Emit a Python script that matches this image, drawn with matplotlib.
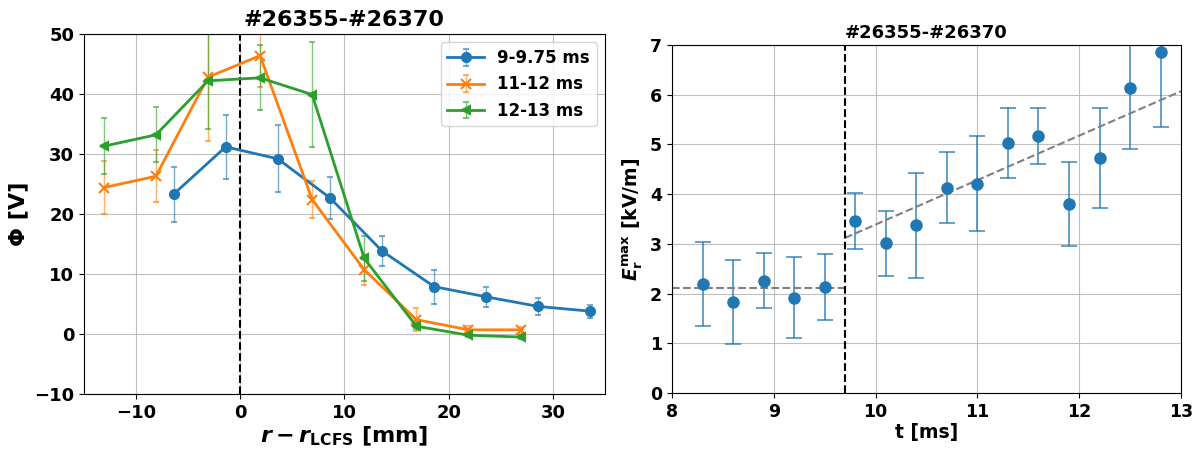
import matplotlib
matplotlib.use("Agg")
import matplotlib.pyplot as plt
import numpy as np

plt.rcParams["font.family"] = ["DejaVu Sans"]
plt.rcParams["font.weight"] = "bold"
plt.rcParams["axes.labelweight"] = "bold"
plt.rcParams["axes.titleweight"] = "bold"
plt.rcParams["mathtext.fontset"] = "custom"
plt.rcParams["mathtext.rm"] = "DejaVu Sans:bold"
plt.rcParams["mathtext.it"] = "DejaVu Sans:italic:bold"
plt.rcParams["mathtext.bf"] = "DejaVu Sans:bold"

# Radial potential profiles
r_blue = [-6.4, -1.4, 3.6, 8.6, 13.6, 18.6, 23.6, 28.6, 33.6]
phi_blue = [23.3, 31.2, 29.2, 22.7, 13.85, 7.9, 6.2, 4.6, 3.8]
err_blue = [4.6, 5.3, 5.6, 3.5, 2.5, 2.85, 1.7, 1.45, 1.05]

r_og = [-13.1, -8.1, -3.1, 1.9, 6.9, 11.9, 16.9, 21.9, 26.9]
phi_orange = [24.4, 26.3, 42.8, 46.4, 22.4, 10.7, 2.4, 0.7, 0.7]
err_orange = [4.45, 4.3, 10.7, 5.2, 3.1, 2.5, 1.9, 0.6, 0.5]
phi_green = [31.3, 33.2, 42.2, 42.7, 39.9, 12.6, 1.3, -0.2, -0.5]
err_green = [4.65, 4.6, 8.0, 5.4, 8.75, 3.7, 0.5, 0.3, 0.3]

labels = ["9-9.75 ms", "11-12 ms", "12-13 ms"]

# Maximum radial field versus time
t = [8.3, 8.6, 8.9, 9.2, 9.5, 9.8, 10.1, 10.4, 10.7, 11.0, 11.3, 11.6, 11.9, 12.2, 12.5, 12.8]
E_max = [2.19, 1.83, 2.26, 1.92, 2.13, 3.46, 3.01, 3.37, 4.13, 4.21, 5.03, 5.17, 3.80, 4.73, 6.13, 6.85]
E_err = [0.84, 0.84, 0.55, 0.82, 0.67, 0.56, 0.65, 1.05, 0.72, 0.95, 0.71, 0.57, 0.84, 1.0, 1.23, 1.5]

t_transition = 9.7
pre_mean = 2.11
post_at_transition = 3.12
post_slope = 0.894

title = "#26355-#26370"

fig = plt.figure(figsize=(11.98, 4.5), dpi=100)
ax1 = fig.add_axes([0.0701, 0.1244, 0.4349, 0.8000])
ax2 = fig.add_axes([0.5609, 0.1267, 0.4249, 0.7733])

c_blue, c_orange, c_green = "#1f77b4", "#ff7f0e", "#2ca02c"

ebk = dict(capsize=2.5, elinewidth=1.0, lw=2.0)
for r, y, e, c, m, ms, lab in [
    (r_blue, phi_blue, err_blue, c_blue, "o", 6.5, labels[0]),
    (r_og, phi_orange, err_orange, c_orange, "x", 6.5, labels[1]),
    (r_og, phi_green, err_green, c_green, "<", 6, labels[2]),
]:
    line, caps, bars = ax1.errorbar(r, y, yerr=e, color=c, marker=m, ms=ms,
                                    mew=1.5, label=lab, **ebk)
    for cp in caps:
        cp.set_alpha(0.6)
    for b in bars:
        b.set_alpha(0.6)

ax1.axvline(0, color="black", ls="--", lw=1.5)
ax1.set_xlim(-15, 35)
ax1.set_ylim(-10, 50)
ax1.set_xticks([-10, 0, 10, 20, 30])
ax1.set_yticks(np.arange(-10, 51, 10))
ax1.grid(True, color="#b0b0b0", lw=0.8, alpha=0.8)
ax1.tick_params(labelsize=13)
ax1.set_xlabel(r"$r - r_{\rm LCFS}$ [mm]", fontsize=16, labelpad=2)
ax1.set_ylabel("Φ [V]", fontsize=16)
ax1.set_title(title, fontsize=16, pad=6)
ax1.legend(loc="upper right", prop={"weight": "bold", "size": 12},
           handlelength=2.2, borderaxespad=0.5)

# Right panel
ln, caps, bars = ax2.errorbar(t, E_max, yerr=E_err, fmt="o", color=c_blue, ms=8,
                              capsize=6, elinewidth=1.3, capthick=1.3)
for cp in caps:
    cp.set_alpha(0.75)
for b in bars:
    b.set_alpha(0.75)

ax2.plot([8.0, t_transition], [pre_mean, pre_mean], color="grey", ls="--", lw=1.5)
t_fit = np.array([t_transition, 13.0])
ax2.plot(t_fit, post_at_transition + post_slope * (t_fit - t_transition),
         color="grey", ls="--", lw=1.5)
ax2.axvline(t_transition, color="black", ls="--", lw=1.5)

ax2.set_xlim(8, 13)
ax2.set_ylim(0, 7)
ax2.grid(True, color="#b0b0b0", lw=0.8, alpha=0.8)
ax2.tick_params(labelsize=12.5)
ax2.set_xlabel("t [ms]", fontsize=13.5, labelpad=2)
ax2.set_ylabel(r"$E_{\rm r}^{\rm max}$ [kV/m]", fontsize=13.5)
ax2.set_title(title, fontsize=13, pad=5)

fig.savefig("out.png", dpi=100)
